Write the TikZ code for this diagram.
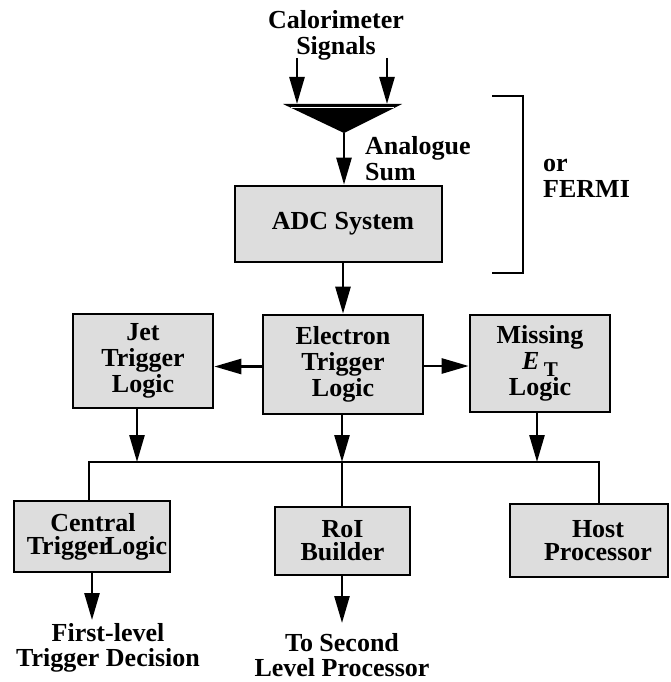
\documentclass[tikz,border=0pt]{standalone}
\usepackage{fontspec}
\setmainfont{Liberation Serif}
\usetikzlibrary{arrows.meta}
\begin{document}
\begin{tikzpicture}[x=1pt,y=-1pt,
  every node/.style={font=\fontsize{26}{26}\selectfont\bfseries, inner sep=0pt, align=center},
  box/.style={draw, line width=2.6pt, fill={rgb,255:red,221;green,221;blue,221}},
  conn/.style={line width=2.6pt},
  arr/.style={line width=2.6pt, -{Triangle[length=27pt,width=15pt]}},
  lbl/.style={}]
\useasboundingbox (0,0) rectangle (671,682);
% title
\node[lbl] (cal) at (336,35) {Calorimeter\\Signals};
% inputs
\coordinate (in1) at (297,58);
\coordinate (in2) at (387,58);
\coordinate (fl) at (283,104);
\coordinate (fr) at (402,104);
\coordinate (apex) at (344,133);
\draw[arr] (in1) -- (297,104);
\draw[arr] (in2) -- (387,104);
\fill (fl) -- (fr) -- (apex) -- cycle;
\draw[white, line width=1.2pt] (291,107.5) -- (394,107.5);
\node[lbl, anchor=west, align=left] (sum) at (365,159) {Analogue\\Sum};
% ADC
\node[box, minimum width=207pt, minimum height=76pt] (adc) at (338.5,224) {\hspace*{9pt}ADC System};
\draw[arr] (apex) -- (apex |- adc.north);
% bracket
\coordinate (bt) at (492,96);
\coordinate (bb) at (492,273);
\draw[conn, line width=2.2pt] (bt) -- (523,96) -- (523,273) -- (bb);
\node[lbl, anchor=west, align=left] (fermi) at (543,178) {or\\FERMI};
% second row
\node[box, minimum width=140pt, minimum height=94pt] (jet) at (143,361) {Jet\\Trigger\\Logic};
\node[box, minimum width=160pt, minimum height=99pt] (ele) at (343,364.5) {Electron\\Trigger\\Logic};
\node[box, minimum width=140pt, minimum height=97pt] (mis) at (540,363.5) {Missing\\{\itshape E}\,\raisebox{-7pt}{\fontsize{21}{21}\selectfont T}\\Logic};
\draw[arr] (adc.south -| ele.north) -- (ele.north);
\coordinate (la) at (263,366.5);
\coordinate (ra) at (423,366);
\draw[arr] (la) -- (la -| jet.east);
\draw[arr] (ra) -- (ra -| mis.west);
% bus
\coordinate (b1) at (137,462);
\coordinate (b2) at (342,462);
\coordinate (b3) at (537,462);
\coordinate (bl) at (89,462);
\coordinate (br) at (599,462);
\draw[arr] (b1 |- jet.south) -- (b1);
\draw[arr] (b2 |- ele.south) -- (b2);
\draw[arr] (b3 |- mis.south) -- (b3);
\draw[conn, line cap=rect] (bl) -- (br);
% third row
\node[box, minimum width=156pt, minimum height=71pt, font=\fontsize{26}{23}\selectfont\bfseries] (cen) at (92,536.5) {\hspace*{2pt}Central\\\hspace*{10pt}Trigger\kern-5pt Logic};
\node[box, minimum width=135pt, minimum height=68pt, font=\fontsize{26}{23}\selectfont\bfseries] (roi) at (342.5,541) {RoI\\Builder};
\node[box, minimum width=158pt, minimum height=73pt, font=\fontsize{26}{23}\selectfont\bfseries] (host) at (589,540.5) {\hspace*{18pt}Host\\\hspace*{18pt}Processor};
\draw[conn] (bl) -- (bl |- cen.north);
\draw[conn] (b2) -- (b2 |- roi.north);
\draw[conn] (br) -- (br |- host.north);
% outputs
\coordinate (o1) at (92,620);
\coordinate (o2) at (342,623);
\draw[arr] (o1 |- cen.south) -- (o1);
\draw[arr] (o2 |- roi.south) -- (o2);
\node[lbl, font=\fontsize{26}{25}\selectfont\bfseries] (out1) at (108,648) {First-level\\Trigger Decision};
\node[lbl, font=\fontsize{26}{25}\selectfont\bfseries] (out2) at (342,655) {To Second\\Level Processor};
\end{tikzpicture}
\end{document}
